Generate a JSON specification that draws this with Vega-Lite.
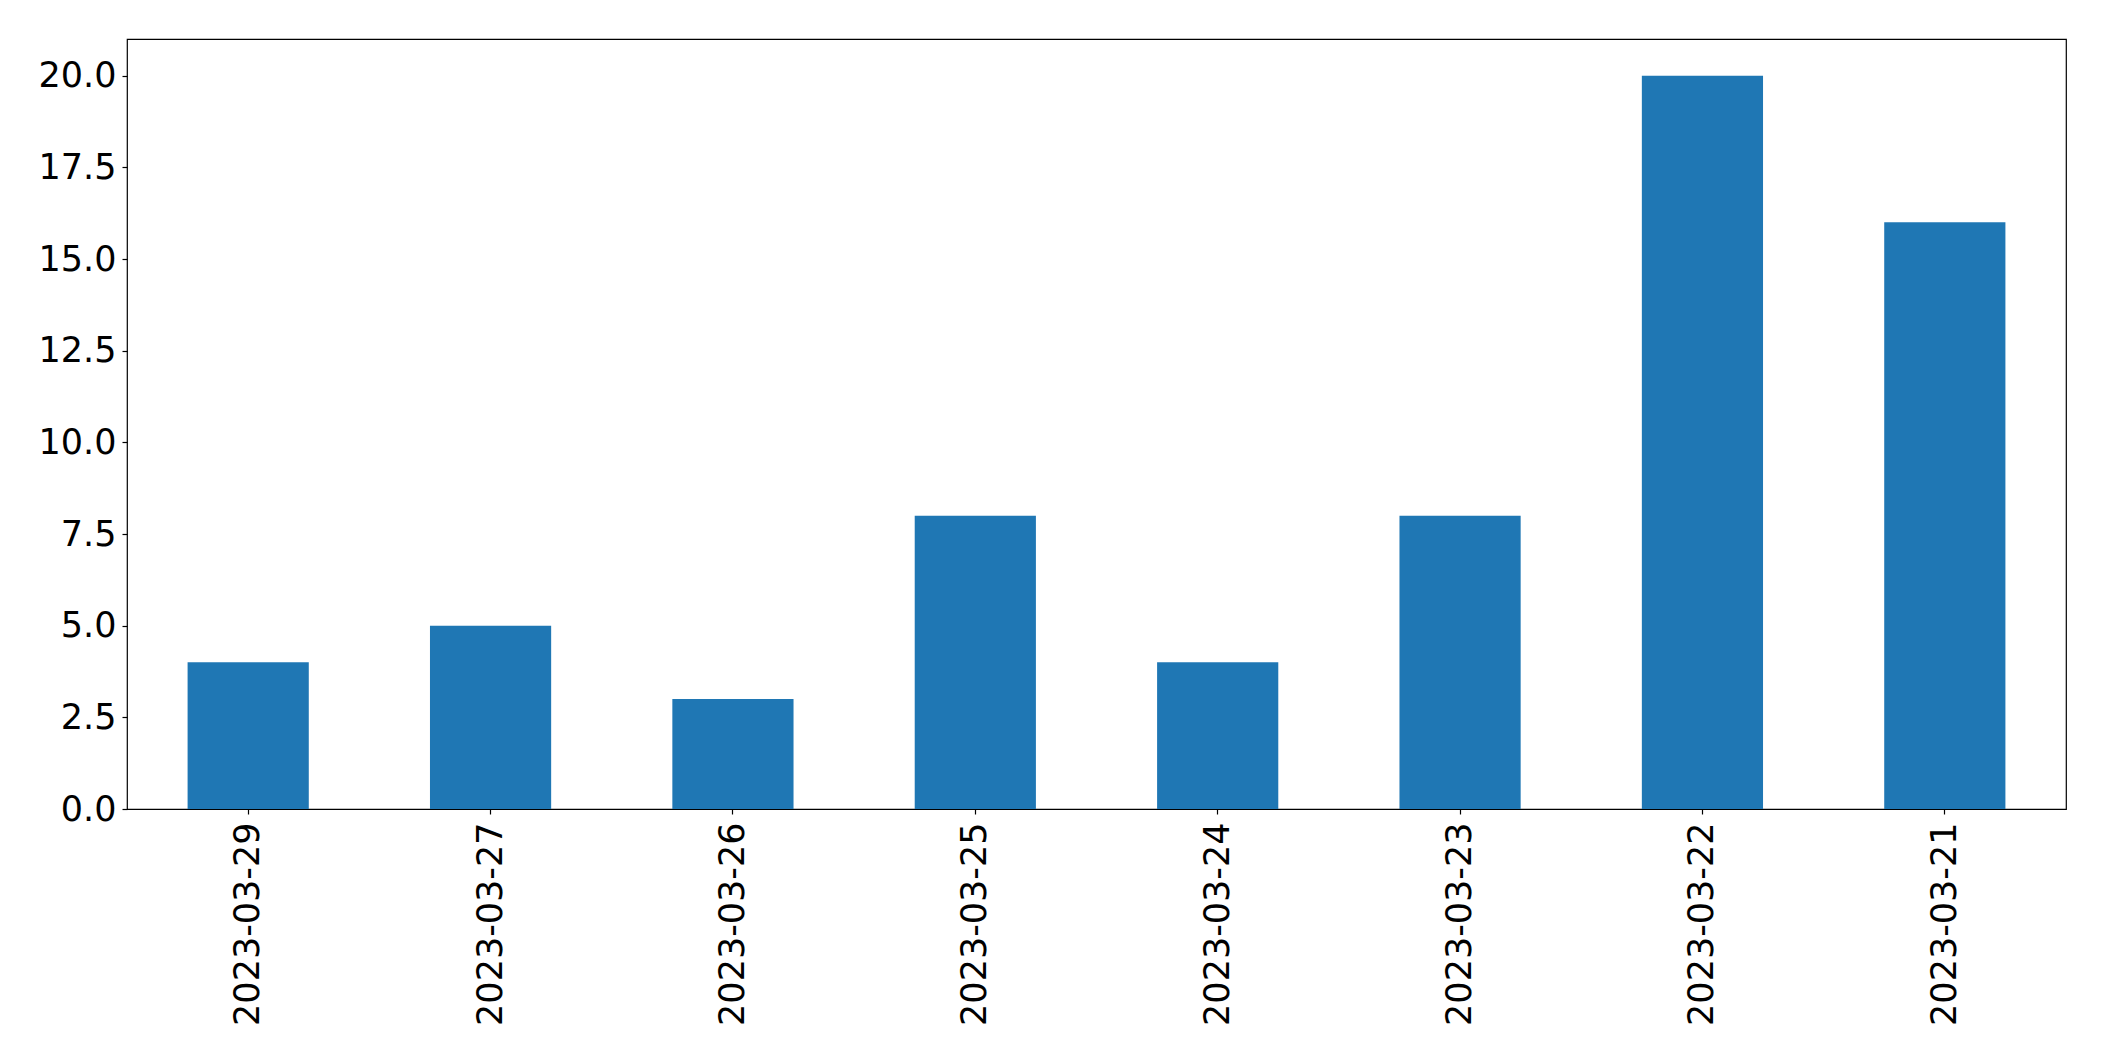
{
  "$schema": "https://vega.github.io/schema/vega-lite/v6.json",
  "width": 1939,
  "height": 770,
  "autosize": {"type": "none"},
  "padding": {"left": 127, "top": 39, "right": 38, "bottom": 252},
  "background": "white",
  "config": {
    "view": {"stroke": "black", "strokeWidth": 1.2},
    "axis": {
      "labelFont": "DejaVu Sans",
      "labelFontSize": 35,
      "labelColor": "black",
      "labelLimit": 0,
      "tickColor": "black",
      "tickSize": 5,
      "tickWidth": 1.2,
      "domain": false,
      "grid": false,
      "title": null
    }
  },
  "data": {
    "values": [
      {"date": "2023-03-29", "count": 4},
      {"date": "2023-03-27", "count": 5},
      {"date": "2023-03-26", "count": 3},
      {"date": "2023-03-25", "count": 8},
      {"date": "2023-03-24", "count": 4},
      {"date": "2023-03-23", "count": 8},
      {"date": "2023-03-22", "count": 20},
      {"date": "2023-03-21", "count": 16}
    ]
  },
  "mark": {"type": "bar", "color": "#1f77b4"},
  "encoding": {
    "x": {
      "field": "date",
      "type": "nominal",
      "sort": null,
      "scale": {"paddingInner": 0.5, "paddingOuter": 0.25},
      "axis": {"labelAngle": -90, "labelPadding": 8}
    },
    "y": {
      "field": "count",
      "type": "quantitative",
      "scale": {"domain": [0, 21], "nice": false, "zero": true},
      "axis": {"values": [0, 2.5, 5, 7.5, 10, 12.5, 15, 17.5, 20], "format": ".1f", "labelPadding": 6}
    }
  }
}
